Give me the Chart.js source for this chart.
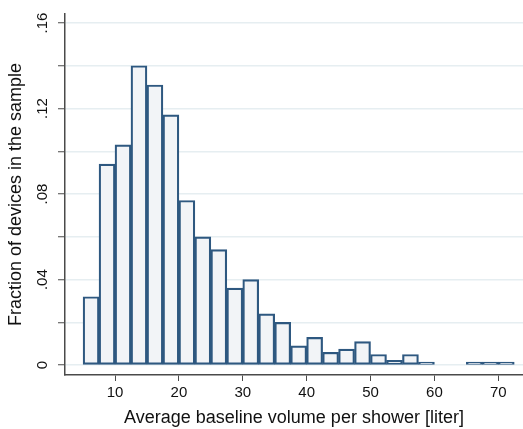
<!DOCTYPE html>
<html>
<head>
<meta charset="utf-8">
<script src="https://cdn.jsdelivr.net/npm/chart.js@4.4.1/dist/chart.umd.min.js"></script>
<style>
  html, body { margin: 0; padding: 0; background: #fff; }
  canvas { display: block; }
</style>
</head>
<body>
<canvas id="hist" width="523" height="429"></canvas>
<script>
// histogram bins (left edge, liter) and the share of devices in each bin
const binWidth = 2.5;
const binStarts = [5, 7.5, 10, 12.5, 15, 17.5, 20, 22.5, 25, 27.5, 30, 32.5, 35, 37.5,
  40, 42.5, 45, 47.5, 50, 52.5, 55, 57.5, 60, 62.5, 65, 67.5, 70];
const fractions = [0.032, 0.094, 0.103, 0.140, 0.131, 0.117, 0.077, 0.060, 0.054, 0.036,
  0.040, 0.024, 0.020, 0.009, 0.013, 0.006, 0.0075, 0.011, 0.005, 0.0023, 0.005, 0.0014,
  0, 0, 0.0014, 0.0014, 0.0014];
const xTicks = [10, 20, 30, 40, 50, 60, 70];
const yTicks = [0, 0.04, 0.08, 0.12, 0.16];

const axisColor = "#4a4a4a";
const font = "Arial, 'Liberation Sans', sans-serif";

const points = binStarts.map((s, i) => ({ x: s + binWidth / 2, y: fractions[i] }));

function yLabel(v) {
  const k = Math.round(v * 100);
  const hit = yTicks.find(t => Math.round(t * 100) === k);
  if (hit === undefined) return "";
  if (hit === 0) return "0";
  return hit.toFixed(2).replace(/^0/, "");
}

const ctx = document.getElementById("hist").getContext("2d");
new Chart(ctx, {
  type: "bar",
  data: {
    datasets: [{
      data: points,
      backgroundColor: "#f2f4f7",
      borderColor: "#2e5880",
      borderWidth: 2.2,
      borderSkipped: false,
      barPercentage: 1,
      categoryPercentage: 1,
    }],
  },
  options: {
    responsive: false,
    animation: false,
    layout: { padding: { top: 10, right: 0, left: 0, bottom: 0 } },
    plugins: { legend: { display: false }, tooltip: { enabled: false } },
    scales: {
      x: {
        type: "linear",
        offset: false,
        min: 2.17,
        max: 73.87,
        afterFit: s => { s.height = 54; },
        afterBuildTicks: s => { s.ticks = xTicks.map(v => ({ value: v })); },
        grid: { offset: false, drawOnChartArea: false, tickLength: 6, color: axisColor, lineWidth: 1 },
        border: { display: true, color: axisColor, width: 1.5 },
        ticks: { color: "#111", font: { family: font, size: 15 }, padding: 3, maxRotation: 0 },
        title: {
          display: true,
          text: "Average baseline volume per shower [liter]",
          color: "#111",
          font: { family: font, size: 18 },
          padding: { top: 0, bottom: 0 },
        },
      },
      y: {
        min: -0.0046,
        max: 0.1642,
        afterFit: s => { s.width = 65; },
        ticks: {
          stepSize: 0.02,
          includeBounds: false,
          minRotation: 90,
          maxRotation: 90,
          crossAlign: "center",
          padding: 5,
          color: "#111",
          font: { family: font, size: 15 },
          callback: v => yLabel(v),
        },
        grid: { color: "#e6eef1", lineWidth: 1.5, tickLength: 7, tickColor: axisColor, tickWidth: 1 },
        border: { display: true, color: axisColor, width: 1.5 },
        title: {
          display: true,
          text: "Fraction of devices in the sample",
          color: "#111",
          font: { family: font, size: 18 },
          padding: { top: 5, bottom: 0 },
        },
      },
    },
  },
});
</script>
</body>
</html>
